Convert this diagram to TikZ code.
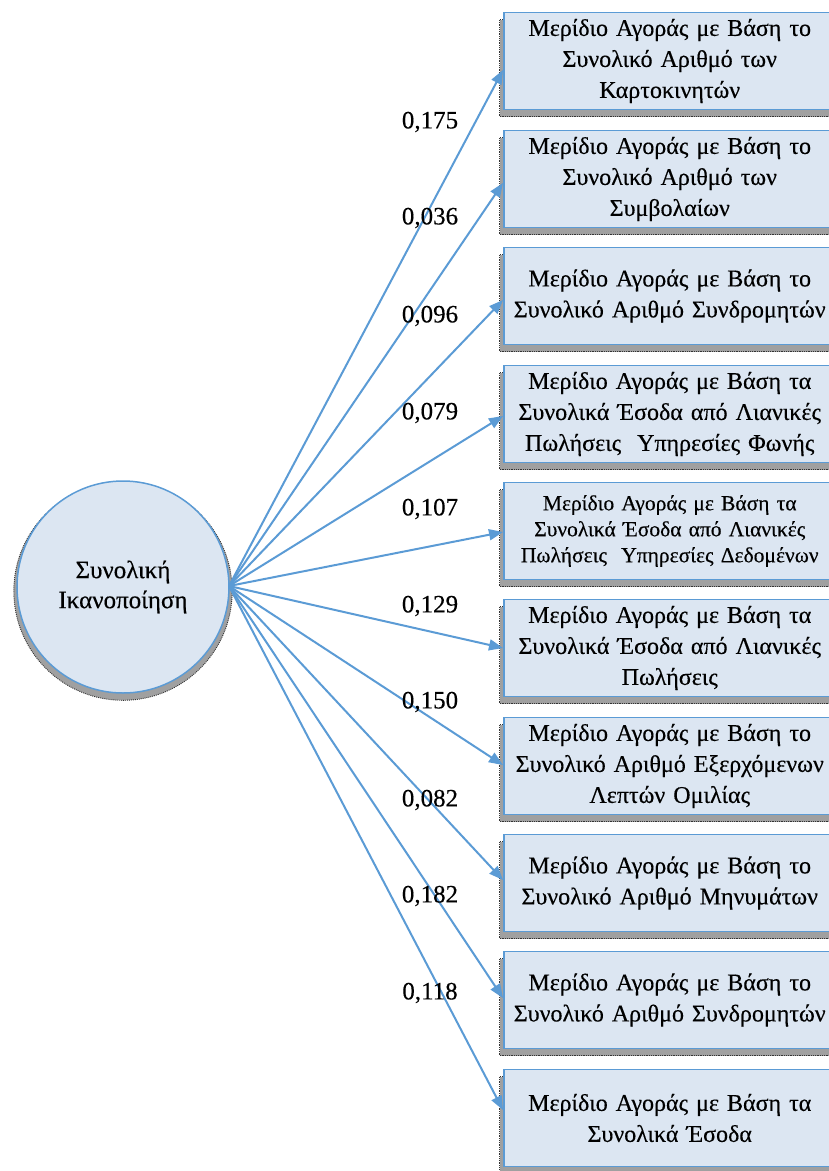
\documentclass[tikz,border=0pt]{standalone}
\usepackage{fontspec}
\setmainfont{Liberation Serif}[UprightFeatures={FakeBold=0.35}]
\usetikzlibrary{arrows.meta,shadows}
\definecolor{boxfill}{HTML}{DCE6F2}
\definecolor{edgeblue}{HTML}{5B9BD5}
\definecolor{shade}{HTML}{A0A0A0}

\begin{document}
\begin{tikzpicture}[x=1pt,y=-1pt,
  measure/.style={rectangle, fill=boxfill, draw=edgeblue, line width=1.5pt,
    minimum width=332pt, minimum height=97pt, inner sep=2pt,
    text width=326pt, align=center, anchor=west,
    font=\fontsize{24}{31}\selectfont,
    general shadow={fill=shade, draw=black!80, densely dotted, line width=0.8pt,
      shadow xshift=-4pt, shadow yshift=-7pt}},
  factor/.style={circle, fill=boxfill, draw=edgeblue, line width=1.5pt,
    minimum size=212pt, inner sep=0pt, align=center,
    font=\fontsize{25}{30}\selectfont,
    general shadow={fill=shade, draw=black!80, densely dotted, line width=0.9pt,
      shadow scale=1.03, shadow yshift=-4pt}},
  load/.style={draw=edgeblue, line width=2pt,
    -{Triangle[length=14pt,width=11pt]}},
  coef/.style={font=\fontsize{25}{30}\selectfont, inner sep=0pt}]

\useasboundingbox (0,0) rectangle (829,1171);

% latent factor
\node[factor] (f) at (123,587) {Συνολική\\Ικανοποίηση};
\coordinate (src) at (229,586);

% indicator boxes
\node[measure] (b1)  at (503,61)   {Μερίδιο Αγοράς με Βάση το\\Συνολικό Αριθμό των\\Καρτοκινητών};
\node[measure] (b2)  at (503,179)  {Μερίδιο Αγοράς με Βάση το\\Συνολικό Αριθμό των\\Συμβολαίων};
\node[measure] (b3)  at (503,296)  {Μερίδιο Αγοράς με Βάση το\\Συνολικό Αριθμό Συνδρομητών};
\node[measure] (b4)  at (503,414)  {Μερίδιο Αγοράς με Βάση τα\\Συνολικά Έσοδα από Λιανικές\\Πωλήσεις\ \ Υπηρεσίες Φωνής};
\node[measure, font=\fontsize{21.5}{26}\selectfont] (b5)  at (503,531)  {Μερίδιο Αγοράς με Βάση τα\\Συνολικά Έσοδα από Λιανικές\\Πωλήσεις\ \ Υπηρεσίες Δεδομένων};
\node[measure] (b6)  at (503,648)  {Μερίδιο Αγοράς με Βάση τα\\Συνολικά Έσοδα από Λιανικές\\Πωλήσεις};
\node[measure] (b7)  at (503,766)  {Μερίδιο Αγοράς με Βάση το\\Συνολικό Αριθμό Εξερχόμενων\\Λεπτών Ομιλίας};
\node[measure] (b8)  at (503,883)  {Μερίδιο Αγοράς με Βάση το\\Συνολικό Αριθμό Μηνυμάτων};
\node[measure] (b9)  at (503,1000) {Μερίδιο Αγοράς με Βάση το\\Συνολικό Αριθμό Συνδρομητών};
\node[measure] (b10) at (503,1118) {Μερίδιο Αγοράς με Βάση τα\\Συνολικά Έσοδα};

% loadings
\draw[load] (src) -- ([yshift=-9pt]b1.west);
\draw[load] (src) -- ([yshift=-4pt]b2.west);
\draw[load] (src) -- ([yshift=-4pt]b3.west);
\draw[load] (src) -- ([yshift=-2pt]b4.west);
\draw[load] (src) -- ([yshift=-1pt]b5.west);
\draw[load] (src) -- (b6.west);
\draw[load] (src) -- ([yshift=1pt]b7.west);
\draw[load] (src) -- ([yshift=3pt]b8.west);
\draw[load] (src) -- ([yshift=2pt]b9.west);
\draw[load] (src) -- ([yshift=8pt]b10.west);

\node[coef] (l1)  at (430,122) {0,175};
\node[coef] (l2)  at (430,218) {0,036};
\node[coef] (l3)  at (430,316) {0,096};
\node[coef] (l4)  at (430,413) {0,079};
\node[coef] (l5)  at (430,509) {0,107};
\node[coef] (l6)  at (430,606) {0,129};
\node[coef] (l7)  at (430,702) {0,150};
\node[coef] (l8)  at (430,800) {0,082};
\node[coef] (l9)  at (430,896) {0,182};
\node[coef] (l10) at (430,993) {0,118};
\end{tikzpicture}
\end{document}
